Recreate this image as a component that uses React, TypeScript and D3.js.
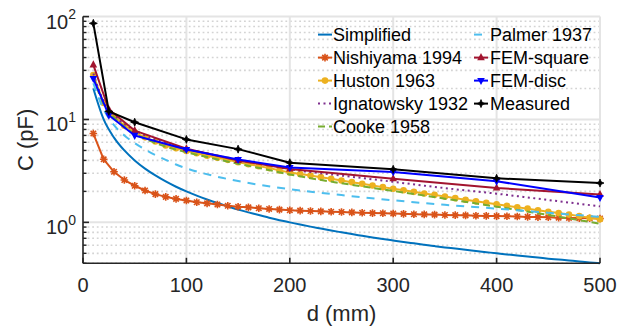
import React from "react";
import * as d3 from "d3";

const W = 632, H = 329;
const M = { left: 83, right: 600, top: 16.6, bottom: 263.3 };

const dFine = [10,20,30,40,50,60,70,80,90,100,110,120,130,140,150,160,170,180,190,200,210,220,230,240,250,260,270,280,290,300,310,320,330,340,350,360,370,380,390,400,410,420,430,440,450,460,470,480,490,500];
const simplifiedVals = [20,10,6.67,5,4,3.33,2.86,2.5,2.22,2,1.82,1.67,1.54,1.43,1.33,1.25,1.18,1.11,1.05,1,0.952,0.909,0.87,0.833,0.8,0.769,0.741,0.714,0.69,0.667,0.645,0.625,0.606,0.588,0.571,0.556,0.541,0.526,0.513,0.5,0.488,0.476,0.465,0.455,0.444,0.435,0.426,0.417,0.408,0.4];
const nishiyamaVals = [7.3,4.1,3.1,2.58,2.27,2.04,1.88,1.77,1.69,1.63,1.57,1.53,1.49,1.45,1.42,1.4,1.37,1.35,1.33,1.31,1.3,1.29,1.28,1.27,1.26,1.25,1.24,1.23,1.225,1.22,1.21,1.2,1.195,1.19,1.18,1.175,1.17,1.16,1.155,1.15,1.145,1.14,1.13,1.125,1.12,1.11,1.105,1.1,1.095,1.09];
const hustonVals = [27,14.5,10.8,8.7,7.5,6.7,6.1,5.6,5.25,4.95,4.7,4.45,4.25,4.05,3.85,3.68,3.52,3.37,3.2,3.05,2.95,2.85,2.75,2.65,2.55,2.46,2.37,2.28,2.2,2.12,2.05,1.98,1.91,1.85,1.78,1.72,1.66,1.6,1.55,1.5,1.45,1.4,1.36,1.31,1.27,1.23,1.19,1.15,1.11,1.07];

const dCoarse = [10,20,30,40,50,60,70,80,90,100,125,150,175,200,250,300,350,400,450,500];
const ignatowskyVals = [28,15,11,9.0,7.9,7.0,6.4,5.9,5.5,5.2,4.55,4.05,3.65,3.28,2.85,2.48,2.15,1.9,1.65,1.43];
const cookeVals = [26,14,10.5,8.5,7.3,6.5,5.9,5.45,5.1,4.8,4.2,3.72,3.3,2.92,2.4,2.02,1.7,1.42,1.18,0.97];
const palmerVals = [22.5,12.5,8.8,7.0,5.9,5.1,4.5,4.05,3.65,3.35,2.85,2.52,2.28,2.1,1.84,1.64,1.48,1.36,1.24,1.13];

const dMeas = [10,25,50,100,150,200,300,400,500];
const femSquareVals = [34,12.5,7.8,5.2,4.0,3.3,2.66,2.16,1.87];
const femDiscVals = [25,11.0,7.0,5.1,4.08,3.41,3.09,2.51,1.74];
const measuredVals = [86,12.0,9.4,6.4,5.15,3.8,3.28,2.68,2.41];

const xTicks = [0,100,200,300,400,500];
const yMajor = [1,10,100];
const yExp = ["0","1","2"];
const yMinor = [0.4,0.5,0.6,0.7,0.8,0.9,2,3,4,5,6,7,8,9,20,30,40,50,60,70,80,90];

const FONT = "'Liberation Sans', Arial, Helvetica, sans-serif";

type Series = {
  name: string; d: number[]; v: number[]; color: string; dash?: string;
  marker?: "star" | "circle" | "tri" | "trid" | "diamond"; curve?: boolean;
};

const series: Series[] = [
  { name: "Simplified", d: dFine, v: simplifiedVals, color: "#0072BD", curve: true },
  { name: "Nishiyama 1994", d: dFine, v: nishiyamaVals, color: "#D95319", marker: "star" },
  { name: "Huston 1963", d: dFine, v: hustonVals, color: "#EDB120", marker: "circle" },
  { name: "Ignatowsky 1932", d: dCoarse, v: ignatowskyVals, color: "#7E2F8E", dash: "2,3.5", curve: true },
  { name: "Cooke 1958", d: dCoarse, v: cookeVals, color: "#77AC30", dash: "7,4", curve: true },
  { name: "Palmer 1937", d: dCoarse, v: palmerVals, color: "#4DBEEE", dash: "8,7", curve: true },
  { name: "FEM-square", d: dMeas, v: femSquareVals, color: "#A2142F", marker: "tri" },
  { name: "FEM-disc", d: dMeas, v: femDiscVals, color: "#0000FF", marker: "trid" },
  { name: "Measured", d: dMeas, v: measuredVals, color: "#000000", marker: "diamond" },
];

function Marker({ type, x, y, color }: { type: string; x: number; y: number; color: string }) {
  if (type === "circle") return <circle cx={x} cy={y} r={3.3} fill={color} />;
  if (type === "star") {
    const r = 3.8, a = r * 0.72;
    return <path d={`M${x - r},${y}L${x + r},${y}M${x},${y - r}L${x},${y + r}M${x - a},${y - a}L${x + a},${y + a}M${x - a},${y + a}L${x + a},${y - a}`} stroke={color} strokeWidth={1.6} />;
  }
  if (type === "tri") return <path d={`M${x},${y - 4.5}L${x + 3.8},${y + 2.6}L${x - 3.8},${y + 2.6}Z`} fill={color} />;
  if (type === "trid") return <path d={`M${x},${y + 4.5}L${x + 3.8},${y - 2.6}L${x - 3.8},${y - 2.6}Z`} fill={color} />;
  if (type === "diamond") {
    const r = 4, s = 1.2;
    return <path d={`M${x},${y - r}L${x + s},${y - s}L${x + r},${y}L${x + s},${y + s}L${x},${y + r}L${x - s},${y + s}L${x - r},${y}L${x - s},${y - s}Z`} fill={color} stroke={color} strokeWidth={0.8} />;
  }
  return null;
}

export default function App() {
  const x = d3.scaleLinear().domain([0, 500]).range([M.left, M.right]);
  const y = d3.scaleLog().domain([0.4, 100]).range([M.bottom, M.top]);

  const lineFor = (s: Series) =>
    d3.line<number>()
      .x((_, i) => x(s.d[i]))
      .y((v) => y(v))
      .curve(s.curve ? d3.curveMonotoneX : d3.curveLinear)(s.v) || "";

  const byName = new Map(series.map((s) => [s.name, s]));

  const legendCols = [
    { names: ["Simplified","Nishiyama 1994","Huston 1963","Ignatowsky 1932","Cooke 1958"], x0: 318, x1: 332, tx: 333 },
    { names: ["Palmer 1937","FEM-square","FEM-disc","Measured"], x0: 474, x1: 488, tx: 490 },
  ];

  return (
    <svg width={W} height={H} style={{ position: "absolute", left: 0, top: 0, background: "#fff" }} fontFamily={FONT}>
      <rect x={0} y={0} width={W} height={H} fill="#fff" />
      {yMinor.map((v) => (
        <line key={"mn" + v} x1={M.left} x2={M.right} y1={y(v)} y2={y(v)} stroke="#d4d4d4" strokeWidth={1.6} strokeDasharray="1.8,2.8" />
      ))}
      {yMajor.map((v) => (
        <line key={"mj" + v} x1={M.left} x2={M.right} y1={y(v)} y2={y(v)} stroke="#e4e4e4" strokeWidth={2} />
      ))}
      {xTicks.map((t) => (
        <line key={"gx" + t} x1={x(t)} x2={x(t)} y1={M.top} y2={M.bottom} stroke="#e4e4e4" strokeWidth={2} />
      ))}

      {series.map((s) => (
        <g key={s.name}>
          <path d={lineFor(s)} fill="none" stroke={s.color} strokeWidth={2} strokeDasharray={s.dash} strokeLinejoin="round" />
          {s.marker && s.v.map((v, i) => <Marker key={i} type={s.marker!} x={x(s.d[i])} y={y(v)} color={s.color} />)}
        </g>
      ))}

      <line x1={M.left} x2={M.left} y1={M.top} y2={M.bottom} stroke="#262626" strokeWidth={1.6} />
      <line x1={M.left} x2={M.right} y1={M.bottom} y2={M.bottom} stroke="#262626" strokeWidth={1.6} />
      {xTicks.map((t) => (
        <g key={"xt" + t}>
          <line x1={x(t)} x2={x(t)} y1={M.bottom} y2={M.bottom - 5.5} stroke="#262626" strokeWidth={1.6} />
          <text x={x(t)} y={292} textAnchor="middle" fontSize={20} fill="#262626">{t}</text>
        </g>
      ))}
      {yMajor.map((v) => (
        <line key={"ytm" + v} x1={M.left} x2={M.left + 6} y1={y(v)} y2={y(v)} stroke="#262626" strokeWidth={1.6} />
      ))}
      {yMinor.map((v) => (
        <line key={"ytn" + v} x1={M.left} x2={M.left + 3.5} y1={y(v)} y2={y(v)} stroke="#262626" strokeWidth={1.4} />
      ))}
      {yMajor.map((v, i) => (
        <text key={"yl" + v} x={76} y={y(v) + 12} textAnchor="end" fontSize={20} fill="#262626">
          10<tspan dy={-9.5} fontSize={14}>{yExp[i]}</tspan>
        </text>
      ))}
      <text x={(M.left + M.right) / 2} y={321} textAnchor="middle" fontSize={22} fill="#262626">d (mm)</text>
      <text transform={`translate(33, ${(M.top + M.bottom) / 2}) rotate(-90)`} textAnchor="middle" fontSize={22} fill="#262626">C (pF)</text>

      {legendCols.map((col, ci) =>
        col.names.map((n, ri) => {
          const s = byName.get(n)!;
          const yc = 34.6 + ri * 23;
          return (
            <g key={ci + n}>
              <line x1={col.x0} x2={col.x1} y1={yc} y2={yc} stroke={s.color} strokeWidth={2} strokeDasharray={s.dash} />
              {s.marker && <Marker type={s.marker} x={(col.x0 + col.x1) / 2} y={yc} color={s.color} />}
              <text x={col.tx} y={yc + 6.5} fontSize={18} fill="#000">{n}</text>
            </g>
          );
        })
      )}
    </svg>
  );
}
